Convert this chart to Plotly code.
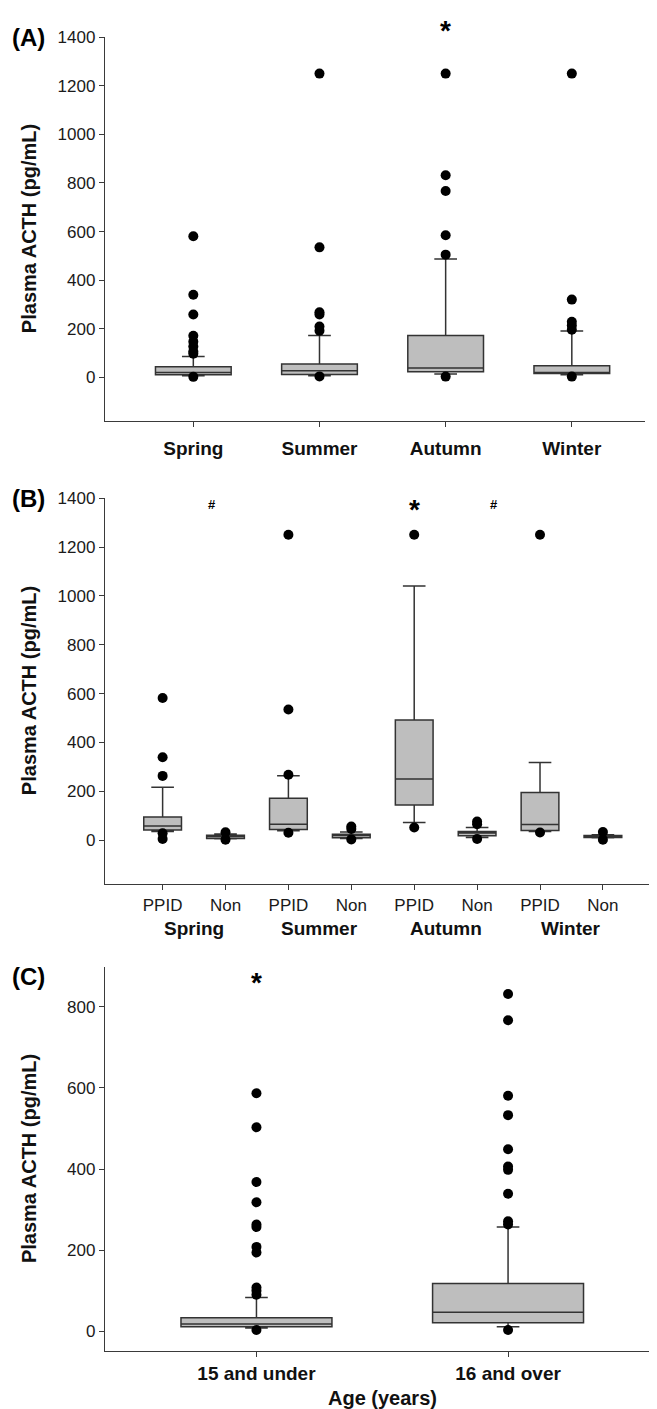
import plotly.graph_objects as go

# ---------------- data ----------------
seasons = ["Spring", "Summer", "Autumn", "Winter"]
a_q1 = [11, 12, 23, 16]
a_med = [20, 27, 38, 20]
a_q3 = [44, 55, 172, 48]
a_lo = [7, 7, 14, 11]
a_hi = [86, 172, 487, 191]
a_out_spring = [581, 340, 259, 171, 147, 127, 106, 97, 2]
a_out_summer = [1250, 535, 268, 259, 209, 192, 4]
a_out_autumn = [1250, 832, 767, 585, 505, 3]
a_out_winter = [1250, 320, 229, 213, 196, 3]

groups = ["PPID", "Non", "PPID", "Non", "PPID", "Non", "PPID", "Non"]
b_q1 = [41, 7, 44, 10, 144, 18, 39, 11]
b_med = [58, 15, 65, 19, 250, 29, 64, 15]
b_q3 = [95, 20, 171, 24, 492, 35, 195, 19]
b_lo = [35, 6, 38, 7, 72, 11, 35, 10]
b_hi = [216, 25, 264, 33, 1040, 52, 318, 22]
b_out = [
    [582, 339, 263, 28, 5],
    [32, 2],
    [1250, 535, 268, 30],
    [56, 46, 3],
    [1250, 52],
    [76, 65, 5],
    [1250, 31],
    [33, 2],
]

ages = ["15 and under", "16 and over"]
c_q1 = [11, 21]
c_med = [18, 47]
c_q3 = [33, 118]
c_lo = [8, 11]
c_hi = [83, 257]
c_out_young = [587, 503, 368, 318, 263, 257, 208, 194, 108, 100, 90, 3]
c_out_old = [832, 767, 581, 533, 449, 406, 398, 339, 271, 263, 3]

# ---------------- styling ----------------
OFF = 8                      # default page body margin
W, H = 657 - OFF, 1409 - OFF
FONT = "Liberation Sans, Arial, sans-serif"
BOX_FILL = "#bebebe"
LINE = "#333333"
AX = "#3a3a3a"


def py(px):
    """window pixel from top -> paper y"""
    return 1 - (px - OFF) / H


def pxx(px):
    return (px - OFF) / W


fig = go.Figure()


def add_panel(xa, ya, q1, med, q3, lo, hi, outs, ww):
    n = len(q1)
    xs = list(range(n))
    fig.add_trace(go.Box(
        x=xs, q1=q1, median=med, q3=q3, lowerfence=lo, upperfence=hi,
        width=0.6, whiskerwidth=ww, fillcolor=BOX_FILL,
        line=dict(color=LINE, width=1.5), boxpoints=False,
        xaxis=xa, yaxis=ya, showlegend=False, hoverinfo="skip",
    ))
    ox, oy = [], []
    for i, vals in enumerate(outs):
        ox += [i] * len(vals)
        oy += vals
    fig.add_trace(go.Scatter(
        x=ox, y=oy, mode="markers",
        marker=dict(color="black", size=10, line=dict(width=0)),
        xaxis=xa, yaxis=ya, showlegend=False, hoverinfo="skip", cliponaxis=False,
    ))


add_panel("x", "y", a_q1, a_med, a_q3, a_lo, a_hi,
          [a_out_spring, a_out_summer, a_out_autumn, a_out_winter], 0.3)
add_panel("x2", "y2", b_q1, b_med, b_q3, b_lo, b_hi, b_out, 0.6)
add_panel("x3", "y3", c_q1, c_med, c_q3, c_lo, c_hi, [c_out_young, c_out_old], 0.15)

yax_common = dict(
    showline=True, linecolor=AX, linewidth=1.3, ticks="outside", ticklen=5,
    tickcolor=AX, tickwidth=1, showgrid=False, zeroline=False,
    tickfont=dict(family=FONT, size=17, color="#1a1a1a"),
)
xax_common = dict(
    showline=True, linecolor=AX, linewidth=1.3, ticks="outside", ticklen=5,
    tickcolor=AX, tickwidth=1, showgrid=False, zeroline=False,
)

fig.update_layout(
    width=W, height=H, margin=dict(l=0, r=0, t=0, b=0),
    plot_bgcolor="white", paper_bgcolor="white",
    xaxis=dict(xax_common, domain=[pxx(105), pxx(645)], range=[-0.70, 3.58],
               tickvals=list(range(4)), ticktext=seasons, anchor="y",
               tickfont=dict(family=FONT, size=19, color="#111", weight="bold"),
               ticklabelstandoff=5),
    yaxis=dict(yax_common, domain=[py(414.7), py(28.3)], range=[-180, 1400],
               tickvals=list(range(0, 1401, 200)), anchor="x"),
    xaxis2=dict(xax_common, domain=[pxx(105), 1], range=[-0.916, 7.86],
                tickvals=list(range(8)), ticktext=groups, anchor="y2",
                tickfont=dict(family=FONT, size=17, color="#1a1a1a"),
                ticklabelstandoff=0),
    yaxis2=dict(yax_common, domain=[py(880.7), py(492.3)], range=[-180, 1400],
                tickvals=list(range(0, 1401, 200)), anchor="x2"),
    xaxis3=dict(xax_common, domain=[pxx(105), 1], range=[-0.602, 1.592],
                tickvals=[0, 1], ticktext=ages, anchor="y3",
                tickfont=dict(family=FONT, size=19, color="#111", weight="bold"),
                ticklabelstandoff=0),
    yaxis3=dict(yax_common, domain=[py(1350.7), py(964.3)], range=[-49, 898],
                tickvals=list(range(0, 801, 200)), anchor="x3"),
)

ann = []


def add_ann(text, x, y, xref, font, **kw):
    ann.append(dict(text=text, x=x, y=y, xref=xref, yref="paper",
                    xanchor="center", yanchor="middle", showarrow=False,
                    font=font, **kw))


ytitle = "Plasma ACTH (pg/mL)"
for yc in (221.5, 686.5, 1157.5):
    add_ann(ytitle, pxx(29), py(yc), "paper",
            dict(family=FONT, size=20, color="#111", weight="bold"), textangle=-90)
for lab, yc in (("(A)", 29), ("(B)", 492.5), ("(C)", 974)):
    add_ann(lab, pxx(28), py(yc), "paper",
            dict(family=FONT, size=24, color="#000", weight="bold"))
# season labels under panel B
for i, s in enumerate(seasons):
    add_ann(s, 2 * i + 0.5, py(925.7), "x2",
            dict(family=FONT, size=19, color="#111", weight="bold"))
add_ann("Age (years)", 0.5, py(1398), "x3",
        dict(family=FONT, size=20, color="#111", weight="bold"))
# significance marks
star_font = dict(family=FONT, size=28, color="#000", weight="bold")
add_ann("*", 2, py(22), "x", star_font)
add_ann("*", 4, py(504), "x2", star_font)
add_ann("*", 0, py(980), "x3", star_font)
hash_font = dict(family=FONT, size=13, color="#000", weight="bold")
add_ann("#", 0.78, py(499), "x2", hash_font)
add_ann("#", 5.27, py(499), "x2", hash_font)

fig.update_layout(annotations=ann)
fig.write_html("out.html")
